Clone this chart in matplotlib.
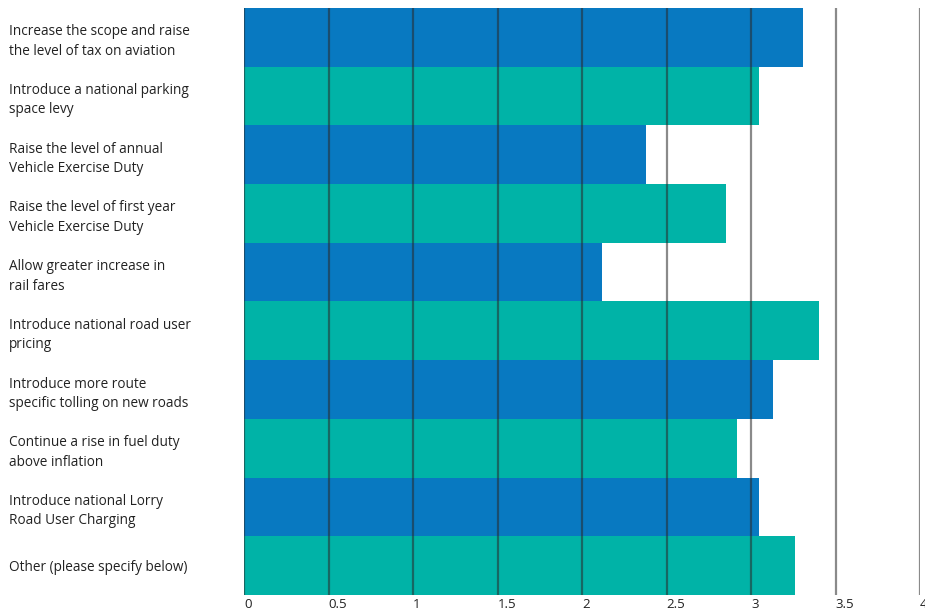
import matplotlib
matplotlib.use("Agg")
import matplotlib.pyplot as plt

measures = [
    "Increase the scope and raise\nthe level of tax on aviation",
    "Introduce a national parking\nspace levy",
    "Raise the level of annual\nVehicle Exercise Duty",
    "Raise the level of first year\nVehicle Exercise Duty",
    "Allow greater increase in\nrail fares",
    "Introduce national road user\npricing",
    "Introduce more route\nspecific tolling on new roads",
    "Continue a rise in fuel duty\nabove inflation",
    "Introduce national Lorry\nRoad User Charging",
    "Other (please specify below)",
]
scores = [3.31, 3.05, 2.38, 2.85, 2.12, 3.40, 3.13, 2.92, 3.05, 3.26]
x_ticks = [0, 0.5, 1, 1.5, 2, 2.5, 3, 3.5, 4]
x_labels = ["0", "0.5", "1", "1.5", "2", "2.5", "3", "3.5", "4"]

BLUE = "#0879c1"
TEAL = "#00b3a7"

plt.rcParams["font.family"] = ["Open Sans", "DejaVu Sans"]

fig = plt.figure(figsize=(9.25, 6.12), dpi=100)
ax = fig.add_axes([244 / 925, 17 / 612, 676 / 925, 587 / 612])

colors = [BLUE if i % 2 == 0 else TEAL for i in range(len(scores))]
ax.barh(range(len(scores)), scores, height=1.0, color=colors, zorder=1)

for xv in x_ticks:
    ax.axvline(xv, color="#2a2a2a", alpha=0.55, linewidth=1.6, zorder=2)

ax.set_xlim(0, 4)
ax.set_ylim(len(scores) - 0.5, -0.5)
ax.set_xticks(x_ticks)
ax.set_xticklabels(x_labels, fontsize=9.5, color="#222222")
for lab in ax.get_xticklabels():
    lab.set_horizontalalignment("left")
ax.set_yticks(range(len(scores)))
ax.set_yticklabels(measures, fontsize=9.8, color="#222222", ha="left",
                   linespacing=1.4)
ax.tick_params(axis="y", length=0, pad=169)
ax.tick_params(axis="x", length=0, pad=2.5)
for s in ax.spines.values():
    s.set_visible(False)

fig.savefig("out.png", dpi=100)
